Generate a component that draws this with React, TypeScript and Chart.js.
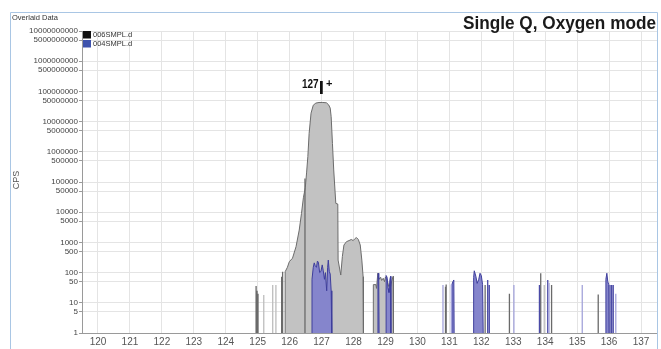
import { useEffect, useRef } from 'react';
import { Chart, registerables } from 'chart.js';

Chart.register(...registerables);

// ---- axis ticks ----
const massTicks = [120, 121, 122, 123, 124, 125, 126, 127, 128, 129, 130, 131, 132, 133, 134, 135, 136, 137];
const cpsTicks = [1, 5, 10, 50, 100, 500, 1000, 5000, 10000, 50000, 100000, 500000, 1000000, 5000000,
  10000000, 50000000, 100000000, 500000000, 1000000000, 5000000000, 10000000000];

// ---- 006SMPL.d profile (filled, grey); null = gap ----
const grayMass = [
  125.86, 125.86, 125.93, 125.99, 126.09, 126.2, 126.3, 126.37, 126.43, 126.49, 126.53, 126.57, 126.61, 126.67,
  126.74, 126.82, 126.92, 127.04, 127.15, 127.22, 127.27, 127.3, 127.34, 127.38, 127.445, 127.508, 127.517,
  127.6, 127.65, 127.7, 127.78, 127.86, 127.93, 127.99, 128.05, 128.09, 128.15, 128.21, 128.26, 128.3, 128.31,
  128.5,
  128.62, 128.62, 128.7, 128.72, 128.76, 128.8, 128.85, 128.88, 128.93, 128.97, 129.0, 129.05, 129.1, 129.15,
  129.2, 129.24, 129.25,
];
const grayCps = [
  1, 107, 150, 230, 300, 720, 2570, 9000, 30000, 65000, 200000, 700000, 4100000, 19000000,
  35000000, 41000000, 43000000, 43000000, 42000000, 36000000, 28000000, 14500000, 1900000, 250000, 19600, 18600, 260,
  83, 340, 820, 1060, 1150, 1250, 1150, 1350, 1450, 1250, 820, 260, 73, 1,
  null,
  1, 40, 40, 30, 95, 60, 70, 55, 65, 50, 72, 60, 35, 30,
  55, 75, 1,
];

// ---- 004SMPL.d profile (filled, blue); null = gap ----
const blueMass = [
  126.7, 126.7, 126.74, 126.77, 126.8, 126.84, 126.87, 126.9, 126.94, 126.98, 127.02, 127.05, 127.09, 127.12,
  127.16, 127.19, 127.21, 127.24, 127.27, 127.3, 127.32, 127.32,
  128.0,
  128.765, 128.765, 128.775, 128.79, 128.8,
  128.9,
  129.02, 129.02, 129.05, 129.08, 129.11, 129.14, 129.16, 129.17,
  130.5,
  131.08, 131.08, 131.11, 131.14, 131.15,
  131.5,
  131.76, 131.76, 131.78, 131.83, 131.87, 131.92, 131.96, 132.0, 132.04, 132.06,
  135.5,
  135.9, 135.9, 135.93, 135.96, 135.99, 136.0,
];
const blueCps = [
  1, 60, 150, 210, 170, 150, 240, 220, 100, 110, 180, 120, 60, 100,
  25, 150, 260, 110, 90, 25, 20, 1,
  null,
  1, 70, 95, 60, 1,
  null,
  1, 80, 70, 30, 22, 60, 75, 1,
  null,
  1, 40, 50, 57, 1,
  null,
  1, 70, 115, 75, 44, 60, 95, 80, 40, 1,
  null,
  1, 60, 95, 50, 40, 1,
];

// ---- single-channel spikes ----
const graySpikeMass = [124.95, 124.98, 125.01, 125.75, 125.78, 126.48, 130.88, 130.9, 132.12, 132.88, 133.86, 134.2, 135.66];
const graySpikeCps = [36, 25, 20, 73, 107, 130000, 34, 40, 39, 20, 95, 39, 19];
const lightSpikeMass = [125.19, 125.47, 125.57, 133.97];
const lightSpikeCps = [18, 39, 39, 39];
const blueSpikeMass = [132.2, 132.25, 133.82, 134.08, 136.03, 136.08, 136.13];
const blueSpikeCps = [57, 39, 39, 57, 39, 39, 39];
const lavenderSpikeMass = [130.8, 131.06, 133.02, 134.12, 135.16, 136.21];
const lavenderSpikeCps = [39, 40, 39, 46, 39, 20];

const legendLabels = ['006SMPL.d', '004SMPL.d'];
const legendColors = ['#111111', '#3f53ad'];
const titleText = 'Single Q, Oxygen mode';
const panelText = 'Overlaid Data';
const yTitle = 'CPS';

const series = (mass: number[], cps: (number | null)[]) => mass.map((m, i) => ({ x: m, y: cps[i] }));
const spikes = (mass: number[], cps: number[]) =>
  mass.flatMap((m, i) => [{ x: m, y: 1 }, { x: m, y: cps[i] }, { x: m, y: null }]);

const decor = {
  id: 'decor',
  afterDraw(chart: any) {
    const ctx = chart.ctx as CanvasRenderingContext2D;
    const xs = chart.scales.x;
    ctx.save();
    // frame
    ctx.strokeStyle = '#a9c6e4';
    ctx.lineWidth = 1;
    ctx.beginPath();
    ctx.moveTo(10.5, 349);
    ctx.lineTo(10.5, 12.5);
    ctx.lineTo(657.5, 12.5);
    ctx.lineTo(657.5, 349);
    ctx.stroke();
    // panel text
    ctx.fillStyle = '#333';
    ctx.font = '7.5px "Liberation Sans", Arial, sans-serif';
    ctx.textAlign = 'left';
    ctx.textBaseline = 'alphabetic';
    ctx.fillText(panelText, 12, 20);
    // title (condensed bold)
    ctx.font = 'bold 18px "Liberation Sans", Arial, sans-serif';
    const w = ctx.measureText(titleText).width;
    const sx = 193 / w;
    ctx.save();
    ctx.translate(656, 28.5);
    ctx.scale(sx, 1);
    ctx.textAlign = 'right';
    ctx.fillStyle = '#1a1a1a';
    ctx.fillText(titleText, 0, 0);
    ctx.restore();
    // y title
    ctx.save();
    ctx.translate(19, 180);
    ctx.rotate(-Math.PI / 2);
    ctx.font = '9px "Liberation Sans", Arial, sans-serif';
    ctx.fillStyle = '#555';
    ctx.textAlign = 'center';
    ctx.fillText(yTitle, 0, 0);
    ctx.restore();
    // legend
    const lx = chart.chartArea.left + 1;
    legendLabels.forEach((lab, i) => {
      const ty = 31 + i * 9;
      ctx.fillStyle = legendColors[i];
      ctx.fillRect(lx, ty, 8, 7.5);
      ctx.fillStyle = '#333';
      ctx.font = '7.5px "Liberation Sans", Arial, sans-serif';
      ctx.textAlign = 'left';
      ctx.textBaseline = 'middle';
      ctx.fillText(lab, lx + 10, ty + 4);
    });
    // peak annotation 127I+
    const px = xs.getPixelForValue(127);
    ctx.textBaseline = 'alphabetic';
    ctx.fillStyle = '#111';
    ctx.save();
    ctx.translate(px - 3, 87.5);
    ctx.scale(0.8, 1);
    ctx.font = 'bold 12.5px "Liberation Sans", Arial, sans-serif';
    ctx.textAlign = 'right';
    ctx.fillText('127', 0, 0);
    ctx.restore();
    ctx.font = 'bold 19px "Liberation Sans", Arial, sans-serif';
    ctx.textAlign = 'left';
    ctx.fillText('I', px - 2.9, 94);
    ctx.font = 'bold 11px "Liberation Sans", Arial, sans-serif';
    ctx.fillText('+', px + 4.5, 86.5);
    ctx.restore();
  },
};

export default function App() {
  const ref = useRef<HTMLCanvasElement>(null);
  useEffect(() => {
    if (!ref.current) return;
    const common = { pointRadius: 0, pointHoverRadius: 0, tension: 0, spanGaps: false };
    const chart = new Chart(ref.current, {
      type: 'line',
      data: {
        datasets: [
          { ...common, label: legendLabels[0], data: series(grayMass, grayCps) as any, borderColor: '#6c6c6c', borderWidth: 1, backgroundColor: '#c2c2c2', fill: 'start', order: 6 },
          { ...common, label: 'g2', data: spikes(graySpikeMass, graySpikeCps) as any, borderColor: '#6a6a6a', borderWidth: 1.3, fill: false, order: 5 },
          { ...common, label: 'g3', data: spikes(lightSpikeMass, lightSpikeCps) as any, borderColor: '#bdbdbd', borderWidth: 1.3, fill: false, order: 4 },
          { ...common, label: legendLabels[1], data: series(blueMass, blueCps) as any, borderColor: '#3e3e9c', borderWidth: 1, backgroundColor: '#8585cc', fill: 'start', order: 3 },
          { ...common, label: 'b2', data: spikes(blueSpikeMass, blueSpikeCps) as any, borderColor: '#4a4aa6', borderWidth: 1.3, fill: false, order: 2 },
          { ...common, label: 'b3', data: spikes(lavenderSpikeMass, lavenderSpikeCps) as any, borderColor: '#a3a3da', borderWidth: 1.3, fill: false, order: 1 },
        ],
      },
      options: {
        animation: false,
        responsive: false,
        maintainAspectRatio: false,
        events: [],
        layout: { padding: { top: 31, left: 0, right: 4, bottom: 0 } },
        plugins: { legend: { display: false }, tooltip: { enabled: false }, title: { display: false } },
        scales: {
          x: {
            type: 'linear',
            min: 119.5,
            max: 137.5,
            afterBuildTicks: (s: any) => { s.ticks = massTicks.map((v) => ({ value: v })); },
            afterFit: (s: any) => { s.height = 16; },
            ticks: {
              autoSkip: false, maxRotation: 0, padding: 3, color: '#555',
              font: { size: 10, family: '"Liberation Sans", Arial, sans-serif' },
              callback: (v: any) => String(v),
            },
            grid: { color: '#e4e4e4', drawTicks: false },
            border: { color: '#9a9a9a' },
          },
          y: {
            type: 'logarithmic',
            min: 1,
            max: 10000000000,
            afterBuildTicks: (s: any) => { s.ticks = cpsTicks.map((v) => ({ value: v })); },
            afterFit: (s: any) => { s.width = 82; },
            ticks: {
              autoSkip: false, padding: 1, color: '#444',
              font: { size: 8, family: '"Liberation Sans", Arial, sans-serif' },
              callback: (v: any) => String(v),
            },
            grid: { color: '#e4e4e4', tickLength: 3, tickColor: '#9a9a9a' },
            border: { color: '#9a9a9a' },
          },
        },
      },
      plugins: [decor],
    });
    return () => chart.destroy();
  }, []);
  return (
    <div style={{ position: 'absolute', left: 0, top: 0, width: 661, height: 349, background: '#fff' }}>
      <canvas ref={ref} width={661} height={349} />
    </div>
  );
}
